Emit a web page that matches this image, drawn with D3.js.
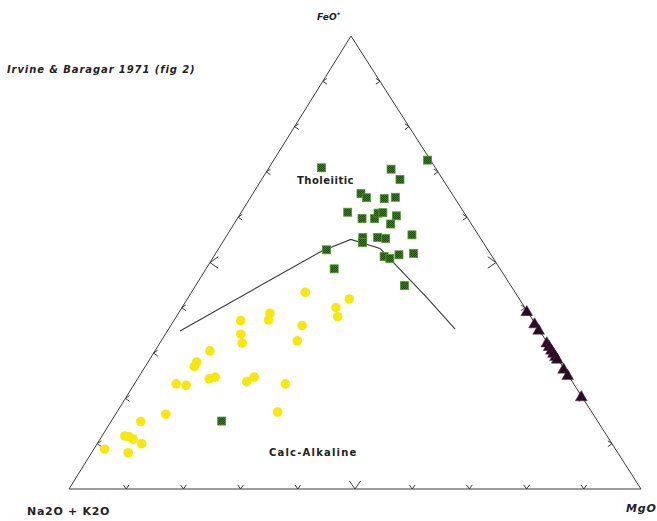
<!DOCTYPE html>
<html>
<head>
<meta charset="utf-8">
<script src="https://cdn.jsdelivr.net/npm/d3@7"></script>
<style>
  html, body { margin: 0; padding: 0; background: #ffffff; }
  svg { display: block; }
  text { font-family: "DejaVu Sans", "Liberation Sans", Arial, sans-serif; fill: #222; font-weight: bold; }
</style>
</head>
<body>
<svg id="chart" width="657" height="521"></svg>
<script>
// AFM compositions, in percent: [Na2O+K2O, FeO*, MgO]
const tholeiiticSamples = [
  [19.9, 70.9, 9.2], [7.9, 70.6, 21.5], [7.5, 68.4, 24.2], [0.5, 72.6, 26.9],
  [15.9, 65.2, 18.9], [15.4, 64.3, 20.3], [12.4, 64.1, 23.5], [10.3, 64.4, 25.3],
  [20.3, 61.1, 18.6], [18.5, 59.7, 21.8], [16.3, 59.7, 24.0], [15.1, 60.9, 24.0],
  [14.2, 61.0, 24.8], [12.2, 60.3, 27.5], [14.1, 58.5, 27.4], [20.5, 55.5, 24.0],
  [21.1, 54.4, 24.5], [17.9, 55.6, 26.6], [16.6, 55.3, 28.1], [11.6, 56.1, 32.3],
  [28.2, 52.8, 19.0], [18.9, 51.3, 29.8], [18.1, 50.9, 31.0], [16.1, 51.7, 32.2],
  [13.4, 52.0, 34.6], [29.0, 48.6, 22.4], [18.6, 44.9, 36.5], [65.7, 15.0, 19.3]
];

const calcAlkalineSamples = [
  [36.7, 43.4, 19.9], [29.7, 41.9, 28.3], [33.0, 40.0, 26.9], [33.7, 38.0, 28.2],
  [45.2, 38.8, 16.0], [46.2, 37.3, 16.5], [51.2, 37.2, 11.7], [41.0, 36.1, 23.0],
  [52.7, 34.2, 13.2], [53.4, 32.2, 14.4], [43.5, 32.7, 23.8], [59.9, 30.5, 9.6],
  [63.5, 28.0, 8.5], [64.4, 27.0, 8.6], [63.1, 24.3, 12.5], [61.9, 24.7, 13.4],
  [56.9, 23.7, 19.4], [55.1, 24.7, 20.2], [50.4, 23.2, 26.4], [69.5, 23.2, 7.3],
  [68.0, 22.9, 9.2], [74.7, 16.5, 8.8], [54.9, 17.0, 28.1], [79.9, 14.9, 5.2],
  [84.3, 11.7, 4.0], [83.7, 11.5, 4.8], [83.2, 11.0, 5.8], [82.2, 10.0, 7.8],
  [89.4, 8.8, 1.9], [85.6, 8.0, 6.4]
];

const mgRichSamples = [
  [0.3, 38.8, 60.9], [0.3, 36.1, 63.6], [0.3, 34.7, 65.0], [0.3, 31.9, 67.8],
  [0.3, 31.1, 68.6], [0.3, 30.3, 69.4], [0.3, 29.6, 70.1], [0.3, 28.9, 70.8],
  [0.3, 28.3, 71.4], [0.3, 26.1, 73.6], [0.3, 24.7, 75.0], [0.3, 20.0, 79.7]
];

// Tholeiitic / calc-alkaline dividing line
const boundary = [
  [62.9, 34.9, 2.2], [29.1, 52.5, 18.3], [22.8, 55.1, 22.1],
  [18.7, 53.1, 28.2], [16.0, 42.2, 41.8], [14.6, 35.3, 50.1]
];

const tickFractions = [0.1, 0.2, 0.3, 0.4, 0.5, 0.6, 0.7, 0.8, 0.9];
const cornerLabels = ["Na2O + K2O", "FeO", "MgO"];
const fieldLabels = ["Tholeiitic", "Calc-Alkaline"];
const titleText = "Irvine & Baragar 1971 (fig 2)";

const svg = d3.select("#chart");

// Base runs along x; FeO* apex sits slightly left of the base midpoint.
const xScale = d3.scaleLinear().domain([0, 1]).range([69, 641]);
const yScale = d3.scaleLinear().domain([0, 1]).range([489, 36]);
const apexOffset = 0.493;

function project(d) {
  const s = d[0] + d[1] + d[2];
  const f = d[1] / s, m = d[2] / s;
  return [xScale(m + apexOffset * f), yScale(f)];
}

// Marker fill pattern: fine dark checker on green
const defs = svg.append("defs");
const pat = defs.append("pattern")
  .attr("id", "greenCheck").attr("width", 2).attr("height", 2)
  .attr("patternUnits", "userSpaceOnUse");
pat.append("rect").attr("width", 2).attr("height", 2).attr("fill", "#3a7d1c");
pat.append("rect").attr("width", 1).attr("height", 1).attr("fill", "#1c4f0c");
pat.append("rect").attr("x", 1).attr("y", 1).attr("width", 1).attr("height", 1).attr("fill", "#1c4f0c");

// Triangle outline
const A = [100, 0, 0], F = [0, 100, 0], M = [0, 0, 100];
const line = d3.line();
svg.append("path")
  .attr("d", line([A, F, M].map(project)) + "Z")
  .attr("fill", "none").attr("stroke", "#3a3a3a").attr("stroke-width", 1);

// Chevron ticks at every 10 %, larger at 50 %
function chevron(p, dir, len) {
  const ang = 35 * Math.PI / 180;
  const rot = (v, a) => [v[0] * Math.cos(a) - v[1] * Math.sin(a), v[0] * Math.sin(a) + v[1] * Math.cos(a)];
  const a1 = rot(dir, ang), a2 = rot(dir, -ang);
  return `M${p[0] + a1[0] * len},${p[1] + a1[1] * len}L${p[0]},${p[1]}L${p[0] + a2[0] * len},${p[1] + a2[1] * len}`;
}
const ticks = [];
tickFractions.forEach(t => {
  const big = Math.abs(t - 0.5) < 1e-9;
  // base (A–M), left (A–F), right (F–M)
  ticks.push({ p: project([100 * (1 - t), 0, 100 * t]), dir: [0, -1], big });
  ticks.push({ p: project([100 * (1 - t), 100 * t, 0]), dir: [1, 0], big });
  ticks.push({ p: project([0, 100 * (1 - t), 100 * t]), dir: [-1, 0], big });
});
svg.append("g").selectAll("path").data(ticks).join("path")
  .attr("d", d => chevron(d.p, d.dir, d.big ? 10 : 5))
  .attr("fill", "none").attr("stroke", "#3a3a3a").attr("stroke-width", 1);

// Dividing line
svg.append("path")
  .attr("d", line(boundary.map(project)))
  .attr("fill", "none").attr("stroke", "#3a3a3a").attr("stroke-width", 1.1);

// Calc-alkaline samples
svg.append("g").selectAll("circle").data(calcAlkalineSamples).join("circle")
  .attr("cx", d => project(d)[0]).attr("cy", d => project(d)[1])
  .attr("r", 4.8).attr("fill", "#f6e80e");

// Tholeiitic samples
const sq = 8;
svg.append("g").selectAll("rect").data(tholeiiticSamples).join("rect")
  .attr("x", d => project(d)[0] - sq / 2).attr("y", d => project(d)[1] - sq / 2)
  .attr("width", sq).attr("height", sq)
  .attr("fill", "url(#greenCheck)").attr("stroke", "#4f9a2c").attr("stroke-width", 0.8);

// Mg-rich samples
const tri = d3.symbol(d3.symbolTriangle, 60);
svg.append("g").selectAll("path").data(mgRichSamples).join("path")
  .attr("transform", d => { const p = project(d); return `translate(${p[0]},${p[1] - 1})`; })
  .attr("d", tri).attr("fill", "#2a0c22").attr("stroke", "#5a1e4a").attr("stroke-width", 0.5);

// Labels
svg.append("text").attr("x", 7).attr("y", 73)
  .attr("font-size", 10).attr("font-style", "italic").attr("letter-spacing", 0.9)
  .text(titleText);

const fe = svg.append("text").attr("x", 317).attr("y", 20)
  .attr("font-size", 9).attr("font-style", "italic").attr("letter-spacing", 0.2);
fe.append("tspan").text(cornerLabels[1]);
fe.append("tspan").attr("dy", -3).attr("font-size", 6.5).text("*");

svg.append("text").attr("x", 27).attr("y", 515)
  .attr("font-size", 11).attr("letter-spacing", 0.7)
  .text(cornerLabels[0]);

svg.append("text").attr("x", 626).attr("y", 512)
  .attr("font-size", 11).attr("font-style", "italic").attr("letter-spacing", 0.8)
  .text(cornerLabels[2]);

svg.append("text").attr("x", 297).attr("y", 184)
  .attr("font-size", 10).attr("letter-spacing", 0.5)
  .text(fieldLabels[0]);

svg.append("text").attr("x", 269).attr("y", 456)
  .attr("font-size", 10).attr("letter-spacing", 1.2)
  .text(fieldLabels[1]);
</script>
</body>
</html>
